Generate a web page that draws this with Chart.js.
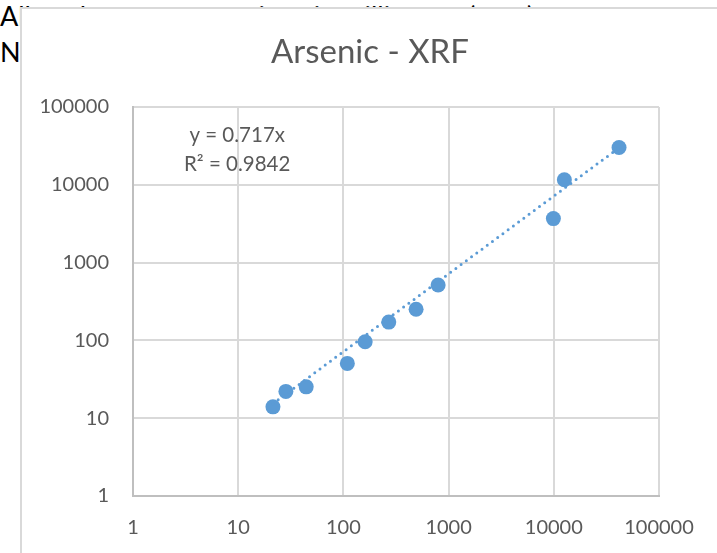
<!DOCTYPE html>
<html>
<head>
<meta charset="utf-8">
<script src="https://cdn.jsdelivr.net/npm/chart.js@4"></script>
<style>
  body { margin: 0; width: 717px; height: 553px; overflow: hidden; background: #fff; position: relative; }
  .doc { position: absolute; left: 0; top: -2px; font-family: Lato, sans-serif; font-size: 27px; color: #000; line-height: 36px; white-space: nowrap; }
  .box { position: absolute; left: 20px; top: 7px; width: 720px; height: 570px; border: 2px solid #d9d9d9; background: #fff; }
  canvas { position: absolute; left: 0; top: 0; }
</style>
</head>
<body>
<div class="doc">All analyte concentrations in milligrams (ppm)<br>Note: values plotted on log scales</div>
<div class="box"></div>
<canvas id="c" width="720" height="553"></canvas>
<script>
const labXRF = [21.4, 28.4, 44.3, 109, 161, 270, 491, 795, 9910, 12600, 41700];
const xrf = [14.0, 22.1, 25.3, 50.6, 96, 172, 251, 516, 3680, 11590, 30200];
const decadeTicks = [1, 10, 100, 1000, 10000, 100000];
const trendSlope = 0.717;
const trendText = ['y = 0.717x', 'R\u00B2 = 0.9842'];

const blue = '#5b9bd5';
const grey = '#595959';

const points = labXRF.map((x, i) => ({ x: x, y: xrf[i] }));
const xMin = Math.min(...labXRF), xMax = Math.max(...labXRF);
const trend = [{ x: xMin, y: trendSlope * xMin }, { x: xMax, y: trendSlope * xMax }];

const equationLabel = {
    id: 'equationLabel',
    afterDatasetsDraw(chart) {
        const ctx = chart.ctx;
        const cx = chart.scales.x.getPixelForValue(10) - 1;
        ctx.save();
        ctx.font = '20.5px Lato';
        ctx.fillStyle = grey;
        ctx.textAlign = 'center';
        ctx.textBaseline = 'middle';
        ctx.fillText(trendText[0], cx, 135);
        ctx.fillText(trendText[1], cx, 164);
        ctx.restore();
    }
};

const logAxis = (extra) => Object.assign({
    type: 'logarithmic',
    min: 1,
    max: 100000,
    afterBuildTicks: (scale) => { scale.ticks = decadeTicks.map(v => ({ value: v })); },
    grid: { color: '#d9d9d9', lineWidth: 2, drawTicks: false },
    border: { color: '#bfbfbf', width: 2 }
}, extra);

new Chart(document.getElementById('c').getContext('2d'), {
    type: 'scatter',
    data: {
        datasets: [{
            label: 'Trend',
            data: trend,
            showLine: true,
            borderColor: blue,
            borderWidth: 3,
            borderDash: [0, 6.5],
            borderCapStyle: 'round',
            pointRadius: 0,
            order: 0
        }, {
            label: 'Arsenic',
            data: points,
            backgroundColor: blue,
            borderWidth: 0,
            pointRadius: 7.5,
            order: 1
        }]
    },
    options: {
        responsive: false,
        animation: false,
        layout: { padding: { left: 20, right: 0, top: 0, bottom: 0 } },
        plugins: {
            legend: { display: false },
            tooltip: { enabled: false },
            title: {
                display: true,
                text: 'Arsenic - XRF',
                color: grey,
                font: { family: 'Lato', size: 33, weight: 'normal' },
                padding: { top: 33, bottom: 34.4 }
            }
        },
        scales: {
            x: logAxis({
                position: 'bottom',
                afterFit: (s) => { s.height = 57; },
                ticks: { color: grey, font: { family: 'Lato', size: 20 }, padding: 20, maxRotation: 0, callback: (v) => String(v) }
            }),
            y: logAxis({
                position: 'left',
                afterFit: (s) => { s.width = 113; },
                ticks: { color: grey, font: { family: 'Lato', size: 20 }, padding: 24, callback: (v) => String(v) }
            }),
            spacer: {
                type: 'linear',
                position: 'right',
                afterFit: (s) => { s.width = 61; },
                ticks: { display: false },
                grid: { display: false, drawTicks: false },
                border: { display: false }
            }
        }
    },
    plugins: [equationLabel]
});
</script>
</body>
</html>
